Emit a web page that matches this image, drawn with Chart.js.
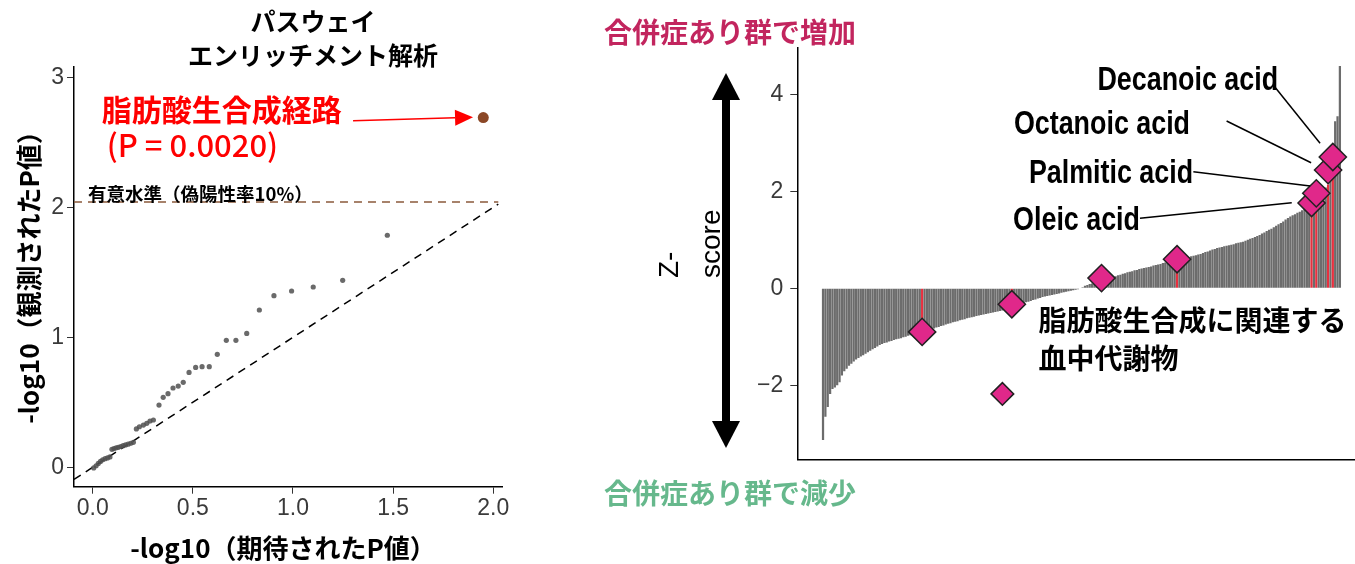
<!DOCTYPE html>
<html><head><meta charset="utf-8">
<script src="https://cdn.jsdelivr.net/npm/chart.js@4.4.1/dist/chart.umd.min.js"></script>
<style>
html,body{margin:0;padding:0;background:#fff;width:1355px;height:564px;overflow:hidden}
#left{position:absolute;left:0;top:0}
#right{position:absolute;left:600px;top:0}
</style></head><body>
<canvas id="left" width="520" height="564"></canvas>
<canvas id="right" width="755" height="564"></canvas>
<script>
// ---------- Left panel: QQ plot of pathway enrichment ----------
const qqExpected = [1.471,1.248,1.101,0.993,0.905,0.832,0.769,0.715,0.667,0.622,
  0.582,0.546,0.514,0.481,0.452,0.427,0.401,0.376,0.352,0.331,
  0.303,0.286,0.270,0.253,0.233,0.218,0.203,
  0.190,0.177,0.164,0.152,0.140,0.128,0.117,0.106,0.096,
  0.086,0.074,0.062,0.050,0.039,0.028,0.017,0.005];
const qqObserved = [1.785,1.438,1.387,1.356,1.320,1.210,1.030,0.977,0.977,0.869,
  0.774,0.774,0.768,0.730,0.654,0.625,0.610,0.566,0.538,0.479,
  0.364,0.356,0.338,0.325,0.312,0.295,0.192,
  0.185,0.178,0.172,0.166,0.160,0.154,0.150,0.144,0.138,
  0.080,0.072,0.066,0.058,0.045,0.030,0.012,-0.005];
const topExpected = [1.95];
const topObserved = [2.69];
const significanceLevel = 2.04;
const identityRange = [-0.0934, 2.025];
const leftXTicks = [0, 0.5, 1.0, 1.5, 2.0];
const leftYTicks = [0, 1, 2, 3];

// ---------- Right panel: sorted Z-scores of metabolites ----------
const zScores = [
 -3.13,-2.65,-2.45,-2.18,-2.08,-2.05,-2.00,-1.94,-1.80,-1.71,
 -1.66,-1.60,-1.56,-1.51,-1.47,-1.44,-1.41,-1.38,-1.35,-1.32,
 -1.29,-1.26,-1.23,-1.20,-1.17,-1.15,-1.13,-1.12,-1.10,-1.09,
 -1.07,-1.05,-1.04,-1.03,-1.01,-1.00,-0.98,-0.97,-0.95,-0.94,
 -0.93,-0.91,-0.90,-0.89,-0.87,-0.86,-0.84,-0.83,-0.81,-0.80,
 -0.78,-0.77,-0.75,-0.73,-0.72,-0.70,-0.69,-0.68,-0.66,-0.65,
 -0.64,-0.62,-0.61,-0.60,-0.59,-0.57,-0.56,-0.55,-0.54,-0.53,
 -0.52,-0.51,-0.50,-0.49,-0.48,-0.47,-0.46,-0.44,-0.42,-0.40,
 -0.38,-0.37,-0.35,-0.34,-0.32,-0.31,-0.29,-0.28,-0.26,-0.24,
 -0.23,-0.21,-0.20,-0.18,-0.17,-0.16,-0.15,-0.14,-0.13,-0.12,
 -0.11,-0.09,-0.08,-0.07,-0.06,-0.05,-0.04,-0.03,-0.02,-0.01,
 0.02,0.05,0.07,0.09,0.10,0.11,0.12,0.14,0.15,0.16,
 0.18,0.19,0.21,0.23,0.25,0.27,0.28,0.30,0.31,0.33,
 0.34,0.35,0.37,0.38,0.40,0.41,0.42,0.43,0.44,0.45,
 0.47,0.48,0.49,0.50,0.52,0.53,0.54,0.55,0.56,0.57,
 0.58,0.60,0.61,0.62,0.63,0.64,0.66,0.67,0.68,0.70,
 0.71,0.73,0.75,0.76,0.78,0.80,0.81,0.83,0.84,0.85,
 0.87,0.88,0.89,0.90,0.91,0.93,0.94,0.95,0.96,0.98,
 1.00,1.02,1.04,1.06,1.08,1.10,1.13,1.15,1.18,1.21,
 1.23,1.26,1.29,1.32,1.35,1.38,1.42,1.45,1.48,1.51,
 1.53,1.56,1.58,1.61,1.64,1.67,1.70,1.74,1.80,1.87,
 1.93,1.98,2.03,2.08,2.14,2.30,2.60,3.45,3.55,4.59];
const highlightIdx = [42, 80, 150, 207, 209, 214, 216];
const diamondIdx = [76, 42, 80, 118, 150, 207, 209, 214, 216];
const diamondZ   = [-2.18, -0.90, -0.33, 0.21, 0.60, 1.76, 1.96, 2.44, 2.71];
const acidNames = ['Decanoic acid', 'Octanoic acid', 'Palmitic acid', 'Oleic acid'];
const rightYTicks = [-2, 0, 2, 4];

Chart.defaults.font.family = '"Liberation Sans", Arial, sans-serif';
Chart.defaults.animation = false;

const JP = '"Noto Sans CJK JP", sans-serif';

// ---------------- LEFT CHART ----------------
const leftDeco = {
  id: 'leftDeco',
  afterDraw(chart) {
    const {ctx, scales: {x, y}} = chart;
    ctx.save();
    ctx.fillStyle = '#000';
    ctx.textAlign = 'center';
    ctx.textBaseline = 'middle';
    ctx.font = 'bold 25px ' + JP;
    ctx.fillText('パスウェイ', 313, 21);
    ctx.fillText('エンリッチメント解析', 313, 55);
    ctx.font = 'bold 26px ' + JP;
    ctx.fillText('-log10（期待されたP値）', 283, 548);
    ctx.save();
    ctx.translate(29, 271);
    ctx.rotate(-Math.PI / 2);
    ctx.fillText('-log10（観測されたP値）', 0, 0);
    ctx.restore();
    // significance label
    ctx.textAlign = 'left';
    ctx.font = 'bold 18.5px ' + JP;
    ctx.fillText('有意水準（偽陽性率10%）', x.getPixelForValue(-0.023), y.getPixelForValue(2.10));
    // red annotation
    ctx.fillStyle = '#FF0000';
    ctx.font = 'bold 30px ' + JP;
    ctx.fillText('脂肪酸生合成経路', x.getPixelForValue(0.045), y.getPixelForValue(2.752));
    ctx.font = '500 31px ' + JP;
    ctx.fillText('(P = 0.0020)', x.getPixelForValue(0.07), y.getPixelForValue(2.479));
    // arrow
    const x1 = x.getPixelForValue(1.30), y1 = y.getPixelForValue(2.666);
    const x2 = x.getPixelForValue(1.899), y2 = y.getPixelForValue(2.692);
    const ang = Math.atan2(y2 - y1, x2 - x1);
    const hl = 18, hw = 8;
    ctx.strokeStyle = '#FF0000';
    ctx.lineWidth = 1.5;
    ctx.beginPath();
    ctx.moveTo(x1, y1);
    ctx.lineTo(x2 - hl * Math.cos(ang), y2 - hl * Math.sin(ang));
    ctx.stroke();
    ctx.beginPath();
    ctx.moveTo(x2, y2);
    ctx.lineTo(x2 - hl * Math.cos(ang) + hw * Math.sin(ang), y2 - hl * Math.sin(ang) - hw * Math.cos(ang));
    ctx.lineTo(x2 - hl * Math.cos(ang) - hw * Math.sin(ang), y2 - hl * Math.sin(ang) + hw * Math.cos(ang));
    ctx.closePath();
    ctx.fill();
    ctx.restore();
  }
};

new Chart(document.getElementById('left'), {
  type: 'scatter',
  data: {
    datasets: [
      {
        data: qqExpected.map((v, i) => ({x: v, y: qqObserved[i]})),
        backgroundColor: 'rgba(80,80,80,0.85)',
        borderWidth: 0,
        pointRadius: 2.6,
        order: 1
      },
      {
        data: topExpected.map((v, i) => ({x: v, y: topObserved[i]})),
        backgroundColor: '#8B4726',
        borderWidth: 0,
        pointRadius: 5.5,
        order: 0
      },
      {
        type: 'line',
        data: identityRange.map(v => ({x: v, y: v})),
        borderColor: '#000',
        borderWidth: 1.5,
        borderDash: [8, 6],
        pointRadius: 0,
        showLine: true,
        fill: false,
        order: 3
      },
      {
        type: 'line',
        data: identityRange.map(v => ({x: v, y: significanceLevel})),
        borderColor: '#8B5A3B',
        borderWidth: 1.5,
        borderDash: [8, 6],
        pointRadius: 0,
        showLine: true,
        fill: false,
        order: 4
      }
    ]
  },
  options: {
    responsive: false,
    devicePixelRatio: 1,
    layout: {autoPadding: false, padding: {top: 66.7, right: 18, bottom: 0, left: 0}},
    plugins: {legend: {display: false}, tooltip: {enabled: false}},
    scales: {
      x: {
        type: 'linear', min: -0.0934, max: 2.0435, offset: false,
        afterBuildTicks: s => { s.ticks = leftXTicks.map(v => ({value: v})); },
        afterFit: s => { s.height = 77.3; },
        ticks: {callback: v => Number(v).toFixed(1), font: {size: 23}, color: '#3a3a3a', padding: 1, maxRotation: 0},
        grid: {display: true, drawOnChartArea: false, drawTicks: true, tickLength: 7, color: '#333', lineWidth: 1},
        border: {display: true, color: '#000', width: 1.5}
      },
      y: {
        type: 'linear', min: -0.1492, max: 3.0815,
        afterBuildTicks: s => { s.ticks = leftYTicks.map(v => ({value: v})); },
        afterFit: s => { s.width = 74; },
        ticks: {callback: v => String(v), font: {size: 23}, color: '#3a3a3a', padding: 3},
        grid: {display: true, drawOnChartArea: false, drawTicks: true, tickLength: 7, color: '#333', lineWidth: 1},
        border: {display: true, color: '#000', width: 1.5}
      }
    }
  },
  plugins: [leftDeco]
});

// ---------------- RIGHT CHART ----------------
const rightDeco = {
  id: 'rightDeco',
  afterDraw(chart) {
    const {ctx, scales: {x, y}} = chart;
    ctx.save();
    ctx.textBaseline = 'middle';
    ctx.textAlign = 'left';
    ctx.font = 'bold 28px ' + JP;
    ctx.fillStyle = '#C2255E';
    ctx.fillText('合併症あり群で増加', 4, 32);
    ctx.fillStyle = '#66B88C';
    ctx.fillText('合併症あり群で減少', 4, 493);

    // double-headed arrow
    const ax = 126;
    ctx.fillStyle = '#000';
    ctx.fillRect(ax - 4, 99, 8, 323);
    ctx.beginPath();
    ctx.moveTo(ax, 73); ctx.lineTo(ax + 14, 100); ctx.lineTo(ax - 14, 100); ctx.closePath(); ctx.fill();
    ctx.beginPath();
    ctx.moveTo(ax, 448); ctx.lineTo(ax + 14, 421); ctx.lineTo(ax - 14, 421); ctx.closePath(); ctx.fill();

    // Z-score label (rotated, two lines)
    ctx.font = '28px "Liberation Sans", Arial, sans-serif';
    ctx.save();
    ctx.translate(70, 278);
    ctx.rotate(-Math.PI / 2);
    ctx.fillText('Z-', 0, 0);
    ctx.restore();
    ctx.save();
    ctx.translate(112, 278);
    ctx.rotate(-Math.PI / 2);
    ctx.fillText('score', 0, 0);
    ctx.restore();

    // acid labels + connectors
    const labelPos = [[192.8, 4.279], [155.5, 3.370], [156.8, 2.359], [134.3, 1.393]];
    const conn = [
      [[191.1, 4.175], [210.6, 2.993]],
      [[171.0, 3.453], [206.8, 2.592]],
      [[156.9, 2.407], [206.4, 2.111]],
      [[134.3, 1.445], [198.6, 1.767]]
    ];
    ctx.strokeStyle = '#000';
    ctx.lineWidth = 1.5;
    conn.forEach(c => {
      ctx.beginPath();
      ctx.moveTo(x.getPixelForValue(c[0][0]), y.getPixelForValue(c[0][1]));
      ctx.lineTo(x.getPixelForValue(c[1][0]), y.getPixelForValue(c[1][1]));
      ctx.stroke();
    });
    ctx.fillStyle = '#000';
    ctx.font = 'bold 34px "Liberation Sans", Arial, sans-serif';
    ctx.textAlign = 'right';
    acidNames.forEach((name, i) => {
      ctx.save();
      ctx.translate(x.getPixelForValue(labelPos[i][0]), y.getPixelForValue(labelPos[i][1]));
      ctx.scale(0.79, 1);
      ctx.fillText(name, 0, 0);
      ctx.restore();
    });

    // Japanese label
    ctx.textAlign = 'left';
    ctx.font = 'bold 28px ' + JP;
    ctx.fillText('脂肪酸生合成に関連する', x.getPixelForValue(91.3), y.getPixelForValue(-0.654));
    ctx.fillText('血中代謝物', x.getPixelForValue(91.3), y.getPixelForValue(-1.439));
    ctx.restore();
  }
};

new Chart(document.getElementById('right'), {
  type: 'bar',
  data: {
    datasets: [
      {
        type: 'scatter',
        data: diamondIdx.map((v, i) => ({x: v, y: diamondZ[i]})),
        pointStyle: 'rectRot',
        pointRadius: ctx => (ctx.dataIndex === 0 ? 11.3 : 13.6),
        backgroundColor: '#E0288A',
        borderColor: '#222',
        borderWidth: 1.5,
        order: 0
      },
      {
        type: 'bar',
        data: zScores.map((v, i) => ({x: i, y: v})),
        backgroundColor: zScores.map((v, i) => highlightIdx.includes(i) ? '#E8303F' : '#6C6C6C'),
        borderWidth: 0,
        barPercentage: 0.95,
        categoryPercentage: 1.0,
        order: 2
      }
    ]
  },
  options: {
    responsive: false,
    devicePixelRatio: 1,
    layout: {autoPadding: false, padding: {top: 48, right: 0, bottom: 0, left: 0}},
    plugins: {legend: {display: false}, tooltip: {enabled: false}},
    scales: {
      x: {
        type: 'linear', min: -10.9, max: 225.4, offset: false,
        afterFit: s => { s.height = 104.7; },
        ticks: {display: false},
        grid: {display: false, offset: false},
        border: {display: true, color: '#000', width: 1.5}
      },
      y: {
        type: 'linear', min: -3.53, max: 4.96,
        afterBuildTicks: s => { s.ticks = rightYTicks.map(v => ({value: v})); },
        afterFit: s => { s.width = 197.3; },
        ticks: {callback: v => (v < 0 ? '\u2212' + Math.abs(v) : String(v)), font: {size: 23}, color: '#3a3a3a', padding: 7},
        grid: {display: true, drawOnChartArea: false, drawTicks: true, tickLength: 7, color: '#333', lineWidth: 1},
        border: {display: true, color: '#000', width: 1.5}
      }
    }
  },
  plugins: [rightDeco]
});
</script>
</body></html>
